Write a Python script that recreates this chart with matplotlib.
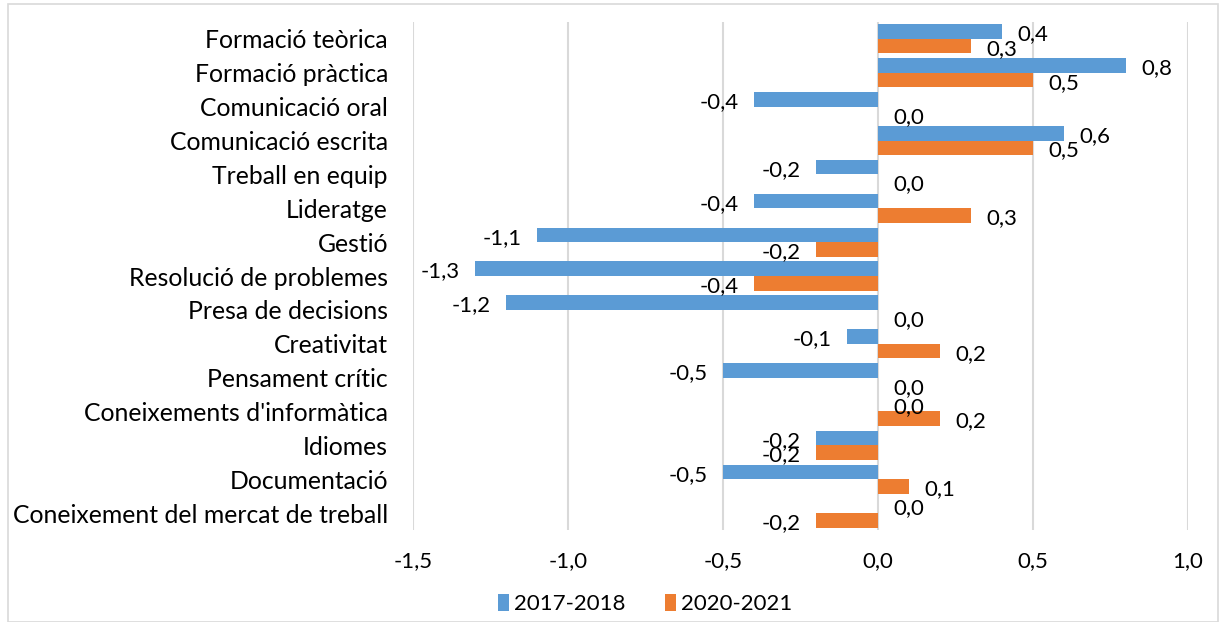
import numpy as np
import matplotlib
matplotlib.use("Agg")
import matplotlib.pyplot as plt
from matplotlib.patches import Rectangle

plt.rcParams['font.family'] = ['Lato', 'DejaVu Sans']

# data
categories = ["Formació teòrica", "Formació pràctica", "Comunicació oral",
              "Comunicació escrita", "Treball en equip", "Lideratge", "Gestió",
              "Resolució de problemes", "Presa de decisions", "Creativitat",
              "Pensament crític", "Coneixements d'informàtica", "Idiomes",
              "Documentació", "Coneixement del mercat de treball"]
v_2017 = [0.4, 0.8, -0.4, 0.6, -0.2, -0.4, -1.1, -1.3, -1.2, -0.1, -0.5, 0.0, -0.2, -0.5, 0.0]
v_2020 = [0.3, 0.5, 0.0, 0.5, 0.0, 0.3, -0.2, -0.4, 0.0, 0.2, 0.0, 0.2, -0.2, 0.1, -0.2]
series = ["2017-2018", "2020-2021"]
colors = ["#5B9BD5", "#ED7D31"]
xticks = [-1.5, -1.0, -0.5, 0.0, 0.5, 1.0]

W, H = 1221, 622
fig = plt.figure(figsize=(W / 100, H / 100), dpi=100)
ax = fig.add_axes([413 / W, (H - 530) / H, (1188 - 413) / W, (530 - 22) / H])

# outer chart border
fig.patches.append(Rectangle((8 / W, 0), (1218 - 8) / W, (H - 4) / H,
                             transform=fig.transFigure, fill=False,
                             edgecolor="#D9D9D9", linewidth=1.2))

y = np.arange(len(categories))
h = 0.43
fs = 16

for i, (vals, name, col) in enumerate(zip([v_2017, v_2020], series, colors)):
    pos = y - h / 2 + i * h
    ax.barh(pos, vals, height=h, color=col, label=name, zorder=3)
    for p, v in zip(pos, vals):
        lab = f"{v:.1f}".replace(".", ",")
        off = 11 if v >= 0 else -11
        ax.annotate(lab, (v, p), xytext=(off, -2), textcoords="offset points",
                    ha="left" if v >= 0 else "right", va="center",
                    fontsize=fs, color="#000000", zorder=4)

ax.set_xlim(-1.5, 1.0)
ax.set_ylim(len(categories) - 0.5, -0.5)
ax.set_xticks(xticks)
ax.set_xticklabels([f"{t:.1f}".replace(".", ",") for t in xticks], fontsize=fs)
ax.set_yticks(y)
ax.set_yticklabels(categories, fontsize=17.8)
ax.tick_params(axis="both", length=0)
ax.tick_params(axis="y", pad=18)
ax.tick_params(axis="x", pad=15)
ax.grid(axis="x", color="#D9D9D9", linewidth=1.5, zorder=0)
for s in ax.spines.values():
    s.set_visible(False)

fig.legend(loc="center", bbox_to_anchor=(645 / W, (H - 604) / H), ncol=2,
           frameon=False, fontsize=fs, handlelength=0.5, handleheight=0.8,
           handletextpad=0.2, columnspacing=1.8)

fig.savefig("out.png", dpi=100)
